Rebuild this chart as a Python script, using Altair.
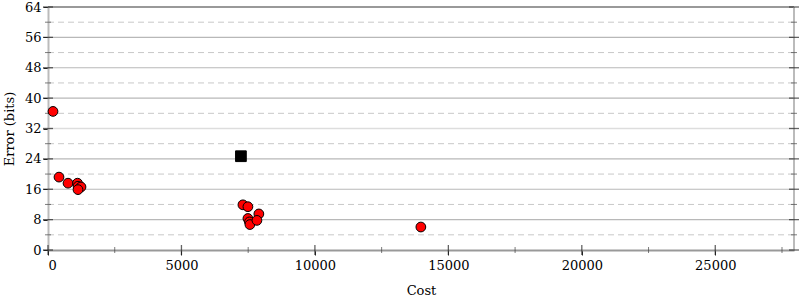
import altair as alt
import pandas as pd

# Data
cost = [187, 412, 750, 1105, 1124, 1236, 1124, 7303, 7490, 7900, 7490, 7547, 7565, 7828, 13970]
error = [36.5, 19.2, 17.6, 17.6, 16.8, 16.6, 15.9, 11.9, 11.4, 9.5, 8.3, 7.4, 6.7, 7.8, 6.05]
ref_cost = [7228]
ref_error = [24.7]

x_max = 27950
y_major = [0, 8, 16, 24, 32, 40, 48, 56, 64]
y_minor = [4, 12, 20, 28, 36, 44, 52, 60]
x_major = [0, 5000, 10000, 15000, 20000, 25000]
x_minor = [2500, 7500, 12500, 17500, 22500, 27500]

W, H = 746, 243
FONT = "DejaVu Serif"
FS = 13

pts = pd.DataFrame({"cost": cost, "error": error})
ref = pd.DataFrame({"cost": ref_cost, "error": ref_error})
ymaj = pd.DataFrame({"v": y_major})
ymin = pd.DataFrame({"v": y_minor})
xmaj = pd.DataFrame({"v": x_major})
xmin = pd.DataFrame({"v": x_minor})
ygrid = pd.DataFrame({"v": [8, 16, 24, 40, 48, 56]})
ygrid_light = pd.DataFrame({"v": [32]})

xs = alt.Scale(domain=[0, x_max], nice=False, zero=False)
ys = alt.Scale(domain=[0, 64], nice=False, zero=False)

x_axis = alt.Axis(values=x_major, format="d", grid=False, domainColor="#999999", domainWidth=2,
                  tickColor="#222222", tickSize=5, labelPadding=4, labelFont=FONT, labelFontSize=FS,
                  labelColor="#000000", titleFont=FONT, titleFontSize=FS, titleFontWeight="normal",
                  titleColor="#000000", titlePadding=12)
y_axis = alt.Axis(values=y_major, format="d", grid=False, domainColor="#bbbbbb", domainWidth=2,
                  tickColor="#222222", tickSize=5, labelPadding=2, labelFont=FONT, labelFontSize=FS,
                  labelColor="#000000", titleFont=FONT, titleFontSize=FS, titleFontWeight="normal",
                  titleColor="#000000", titlePadding=8)


def X(field):
    return alt.X(field, scale=xs, axis=x_axis, title="Cost")


def Y(field):
    return alt.Y(field, scale=ys, axis=y_axis, title="Error (bits)")


grid_dash = alt.Chart(ymin).mark_rule(color="#c8c8c8", strokeDash=[6, 4], strokeWidth=1).encode(y=Y("v:Q"))
grid_solid = alt.Chart(ygrid).mark_rule(color="#b8b8b8", strokeWidth=1.2).encode(y=Y("v:Q"))
grid_light = alt.Chart(ygrid_light).mark_rule(color="#dddddd", strokeWidth=1.5).encode(y=Y("v:Q"))
top_line = alt.Chart(pd.DataFrame({"v": [64]})).mark_rule(color="#999999", strokeWidth=2).encode(y=Y("v:Q"))
right_line = alt.Chart(pd.DataFrame({"v": [x_max]})).mark_rule(color="#bbbbbb", strokeWidth=2).encode(x=X("v:Q"))

# crossing ticks
yt_left_maj = alt.Chart(ymaj).mark_tick(orient="horizontal", size=10, thickness=1.3, color="#222222").encode(
    y=Y("v:Q"), x=alt.value(0))
yt_left_min = alt.Chart(ymin).mark_tick(orient="horizontal", size=6, thickness=1, color="#444444").encode(
    y=Y("v:Q"), x=alt.value(0))
yt_right_maj = alt.Chart(ymaj).mark_tick(orient="horizontal", size=10, thickness=1.3, color="#222222").encode(
    y=Y("v:Q"), x=alt.value(W))
yt_right_min = alt.Chart(ymin).mark_tick(orient="horizontal", size=6, thickness=1, color="#444444").encode(
    y=Y("v:Q"), x=alt.value(W))
xt_maj = alt.Chart(xmaj).mark_tick(orient="vertical", size=10, thickness=1.3, color="#222222").encode(
    x=X("v:Q"), y=alt.value(H))
xt_min = alt.Chart(xmin).mark_tick(orient="vertical", size=6, thickness=1, color="#444444").encode(
    x=X("v:Q"), y=alt.value(H))

points = alt.Chart(pts).mark_point(shape="circle", filled=True, fill="#ff0000", stroke="#000000",
                                   strokeWidth=1, size=95, opacity=1).encode(
    x=X("cost:Q"), y=Y("error:Q"))
refpt = alt.Chart(ref).mark_point(shape="square", filled=True, fill="#000000", stroke="#000000",
                                  strokeWidth=1, size=115, opacity=1).encode(
    x=X("cost:Q"), y=Y("error:Q"))

chart = alt.layer(
    grid_dash, grid_solid, grid_light, top_line, right_line,
    yt_left_maj, yt_left_min, yt_right_maj, yt_right_min, xt_maj, xt_min,
    points, refpt
).properties(
    width=W, height=H,
    autosize=alt.AutoSizeParams(type="none"),
    padding={"left": 48, "top": 7, "right": 6, "bottom": 50},
).configure_view(stroke=None).configure(background="white")

chart.save("out.html", embed_options={"renderer": "svg", "actions": False})
